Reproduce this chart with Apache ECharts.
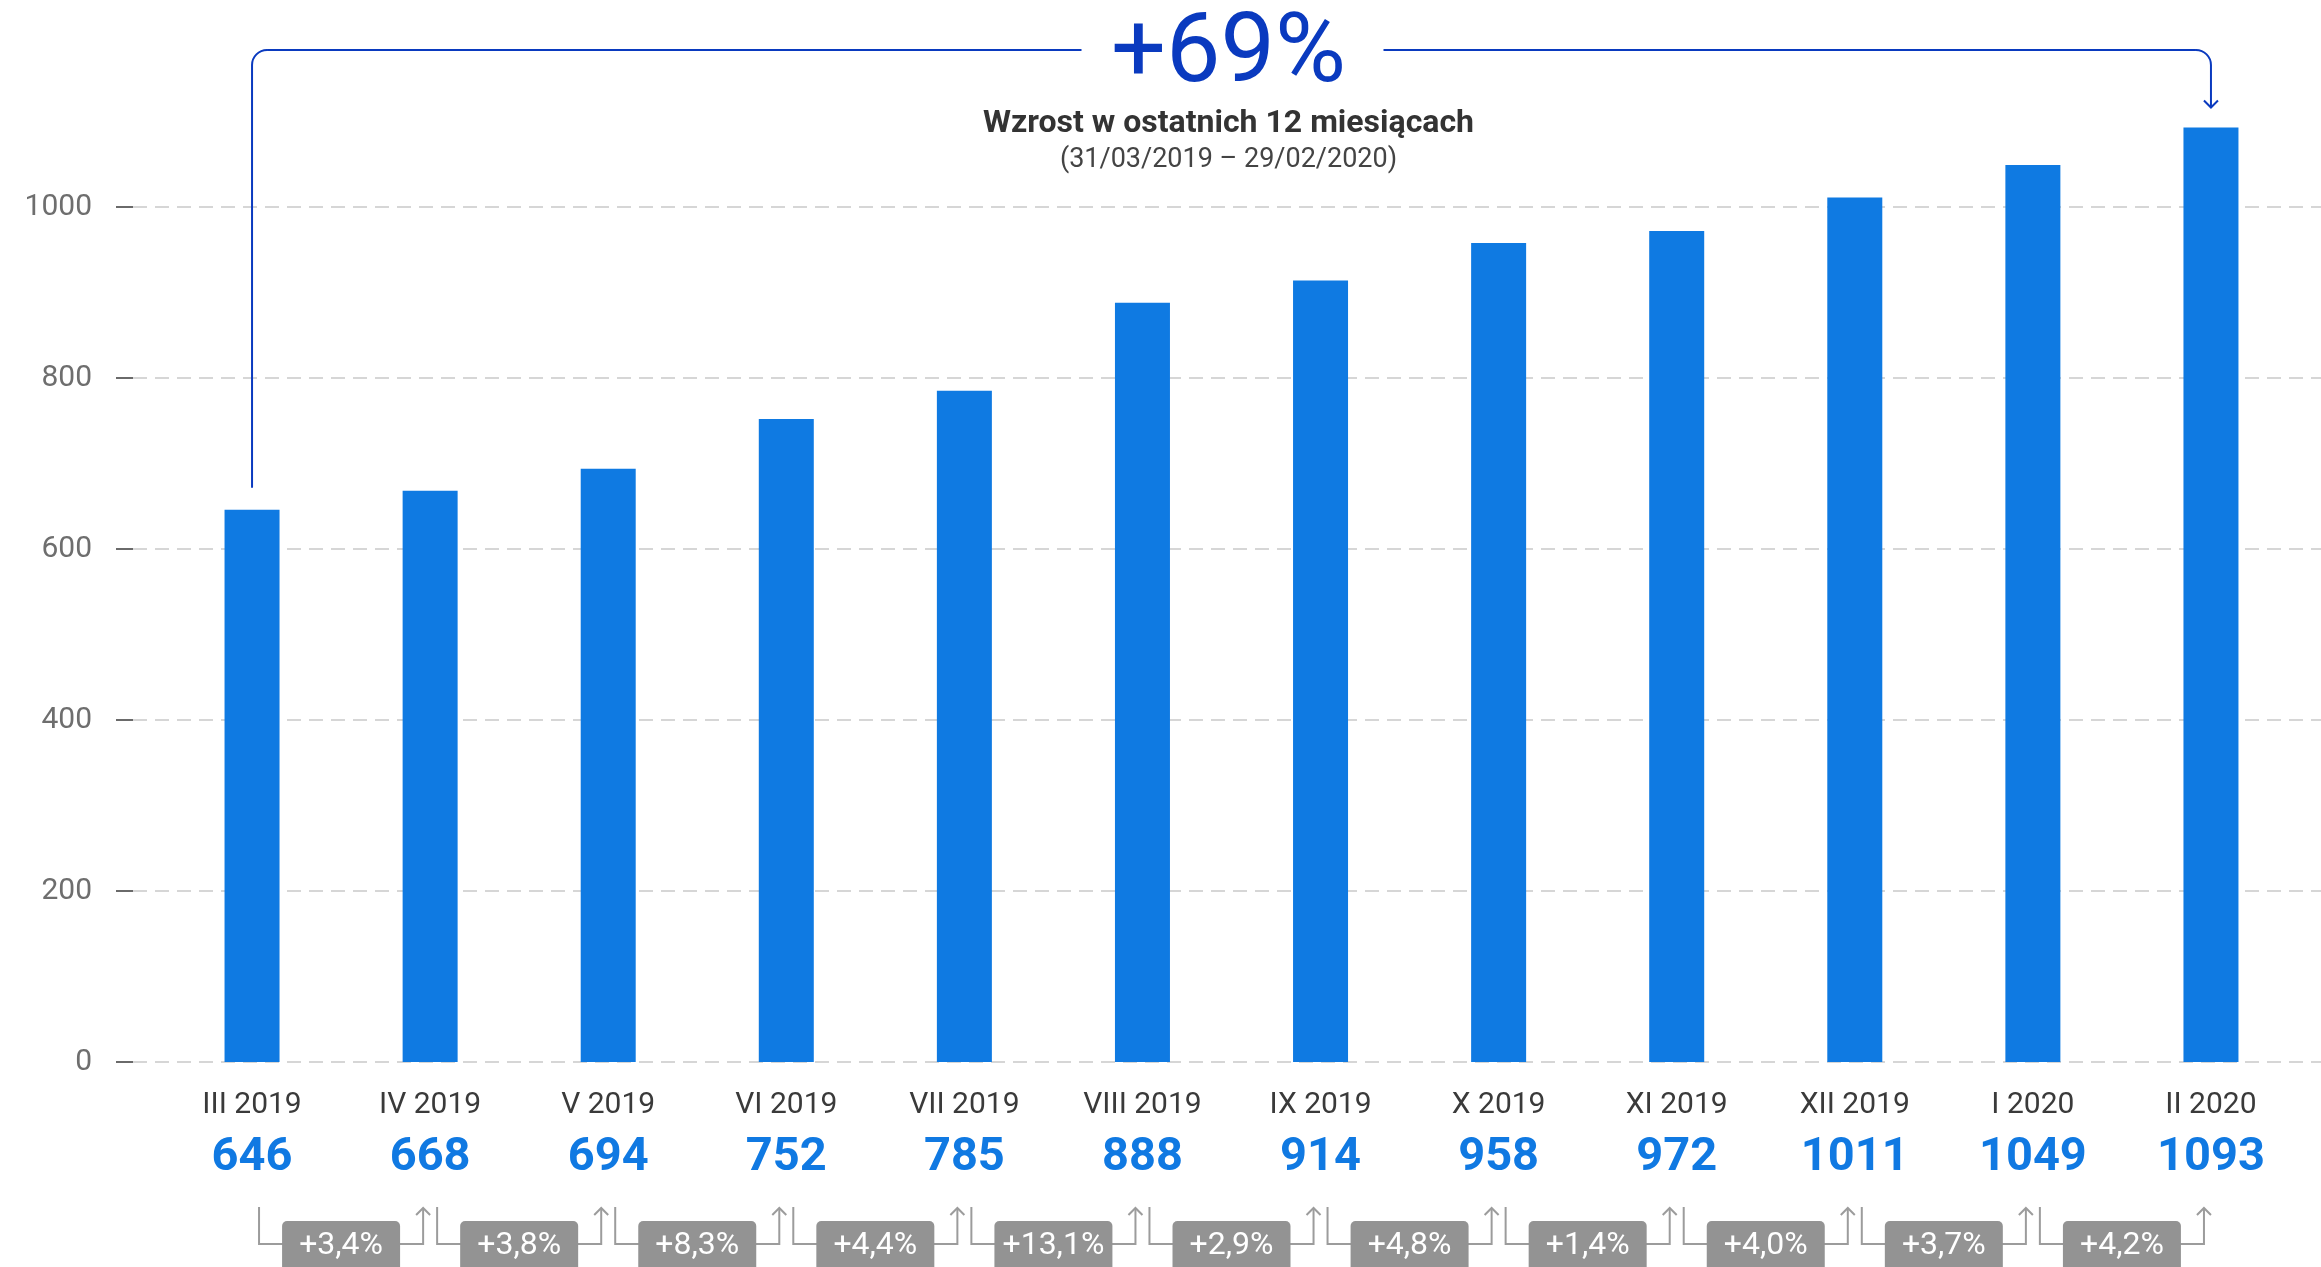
<!DOCTYPE html>
<html>
<head>
<meta charset="utf-8">
<script src="https://cdn.jsdelivr.net/npm/echarts@6/dist/echarts.min.js"></script>
<style>
  html, body { margin: 0; padding: 0; background: #ffffff; }
  #chart { width: 2321px; height: 1267px; }
</style>
</head>
<body>
<div id="chart"></div>
<script>
// ---- data ----
const categories = ['III 2019', 'IV 2019', 'V 2019', 'VI 2019', 'VII 2019', 'VIII 2019', 'IX 2019', 'X 2019', 'XI 2019', 'XII 2019', 'I 2020', 'II 2020'];
const values = [646, 668, 694, 752, 785, 888, 914, 958, 972, 1011, 1049, 1093];
const monthlyChange = ['+3,4%', '+3,8%', '+8,3%', '+4,4%', '+13,1%', '+2,9%', '+4,8%', '+1,4%', '+4,0%', '+3,7%', '+4,2%'];
const yTicks = [0, 200, 400, 600, 800, 1000];
const totalChange = '+69%';
const subtitle = 'Wzrost w ostatnich 12 miesiącach';
const period = '(31/03/2019 – 29/02/2020)';

const BAR = '#0f7ae2';
const DARK_BLUE = '#0a3abf';
const FONT = 'Roboto, "Liberation Sans", sans-serif';

const chart = echarts.init(document.getElementById('chart'), null, { renderer: 'canvas' });

const option = {
  backgroundColor: '#ffffff',
  animation: false,
  grid: [
    { left: 133, right: 0, top: 207, bottom: 205 },
    { left: 163, right: 21, top: 207, bottom: 205 }
  ],
  xAxis: [
    { type: 'value', gridIndex: 0, min: 0, max: 1, show: false },
    {
      type: 'category', gridIndex: 1, data: categories,
      axisLine: { show: false }, axisTick: { show: false },
      axisLabel: {
        interval: 0, margin: 25,
        formatter: function (v, i) { return '{a|' + v + '}\n{b|' + values[i] + '}'; },
        rich: {
          a: { fontFamily: FONT, fontSize: 30, color: '#3a3a3a', lineHeight: 36 },
          b: { fontFamily: FONT, fontSize: 47, fontWeight: 'bold', color: '#1079e2', lineHeight: 70 }
        }
      }
    }
  ],
  yAxis: [
    {
      type: 'value', gridIndex: 0, min: yTicks[0], max: yTicks[yTicks.length - 1],
      interval: yTicks[1] - yTicks[0], position: 'left', offset: 15,
      axisLine: { show: false },
      axisTick: { show: true, inside: false, length: 17, lineStyle: { color: '#6a6a6a', width: 2 } },
      axisLabel: { margin: 26, fontFamily: FONT, fontSize: 30, color: '#6e6e6e', formatter: function (v) { return String(v); } },
      splitLine: { show: true, lineStyle: { color: '#c9c9c9', width: 1.5, type: [14, 8] } }
    },
    {
      type: 'value', gridIndex: 1, min: yTicks[0], max: yTicks[yTicks.length - 1],
      interval: yTicks[1] - yTicks[0], show: false, splitLine: { show: false }
    }
  ],
  series: [
    {
      type: 'bar', xAxisIndex: 1, yAxisIndex: 1, data: values,
      barWidth: 55, clip: false,
      itemStyle: { color: BAR }
    }
  ]
};

chart.setOption(option);

function px(i, v) { return chart.convertToPixel({ gridIndex: 1 }, [i, v]); }

const graphics = [];
const n = values.length;

// bottom month-to-month connectors
const topY = 1207, midY = 1244, lineCol = '#9c9c9c';
for (let i = 0; i < n - 1; i++) {
  const a = px(i, 0)[0], b = px(i + 1, 0)[0];
  const x0 = a + 7, x1 = b - 7, c = (a + b) / 2;
  graphics.push({ type: 'polyline', silent: true, shape: { points: [[x0, topY], [x0, midY], [x1, midY], [x1, topY + 1]] }, style: { stroke: lineCol, lineWidth: 2, fill: null } });
  graphics.push({ type: 'polyline', silent: true, shape: { points: [[x1 - 7, topY + 8], [x1, topY + 1], [x1 + 7, topY + 8]] }, style: { stroke: lineCol, lineWidth: 2, fill: null } });
  graphics.push({ type: 'rect', silent: true, shape: { x: c - 59, y: 1221, width: 118, height: 60, r: 5 }, style: { fill: '#939393' } });
  graphics.push({ type: 'text', silent: true, x: c, y: 1246, style: { text: monthlyChange[i], fill: '#ffffff', font: '32px ' + FONT, textAlign: 'center', textVerticalAlign: 'middle' } });
}

// top annotation
const p0 = px(0, values[0]);
const pN = px(n - 1, values[n - 1]);
const lineY = 50, r = 15;
const xc = (p0[0] + pN[0]) / 2;
const leftEnd = xc - 150, rightStart = xc + 152;
const yStart = p0[1] - 22, yEnd = pN[1] - 20;
const blueStroke = { stroke: DARK_BLUE, lineWidth: 2, fill: null };
graphics.push({ type: 'polyline', silent: true, shape: { points: [[p0[0], yStart], [p0[0], lineY + r]] }, style: blueStroke });
graphics.push({ type: 'arc', silent: true, shape: { cx: p0[0] + r, cy: lineY + r, r: r, startAngle: Math.PI, endAngle: Math.PI * 1.5, clockwise: true }, style: blueStroke });
graphics.push({ type: 'polyline', silent: true, shape: { points: [[p0[0] + r, lineY], [leftEnd, lineY]] }, style: blueStroke });
graphics.push({ type: 'polyline', silent: true, shape: { points: [[rightStart, lineY], [pN[0] - r, lineY]] }, style: blueStroke });
graphics.push({ type: 'arc', silent: true, shape: { cx: pN[0] - r, cy: lineY + r, r: r, startAngle: -Math.PI / 2, endAngle: 0, clockwise: true }, style: blueStroke });
graphics.push({ type: 'polyline', silent: true, shape: { points: [[pN[0], lineY + r], [pN[0], yEnd]] }, style: blueStroke });
graphics.push({ type: 'polyline', silent: true, shape: { points: [[pN[0] - 7, yEnd - 7], [pN[0], yEnd], [pN[0] + 7, yEnd - 7]] }, style: blueStroke });
graphics.push({ type: 'text', silent: true, x: xc - 3, y: 57, style: { text: totalChange, fill: DARK_BLUE, font: '97px ' + FONT, textAlign: 'center', textVerticalAlign: 'middle' } });
graphics.push({ type: 'text', silent: true, x: xc - 3, y: 124, style: { text: subtitle, fill: '#333333', font: 'bold 32px ' + FONT, textAlign: 'center', textVerticalAlign: 'middle' } });
graphics.push({ type: 'text', silent: true, x: xc - 3, y: 160, style: { text: period, fill: '#444444', font: '27px ' + FONT, textAlign: 'center', textVerticalAlign: 'middle' } });

chart.setOption({ graphic: { elements: graphics } });
</script>
</body>
</html>
